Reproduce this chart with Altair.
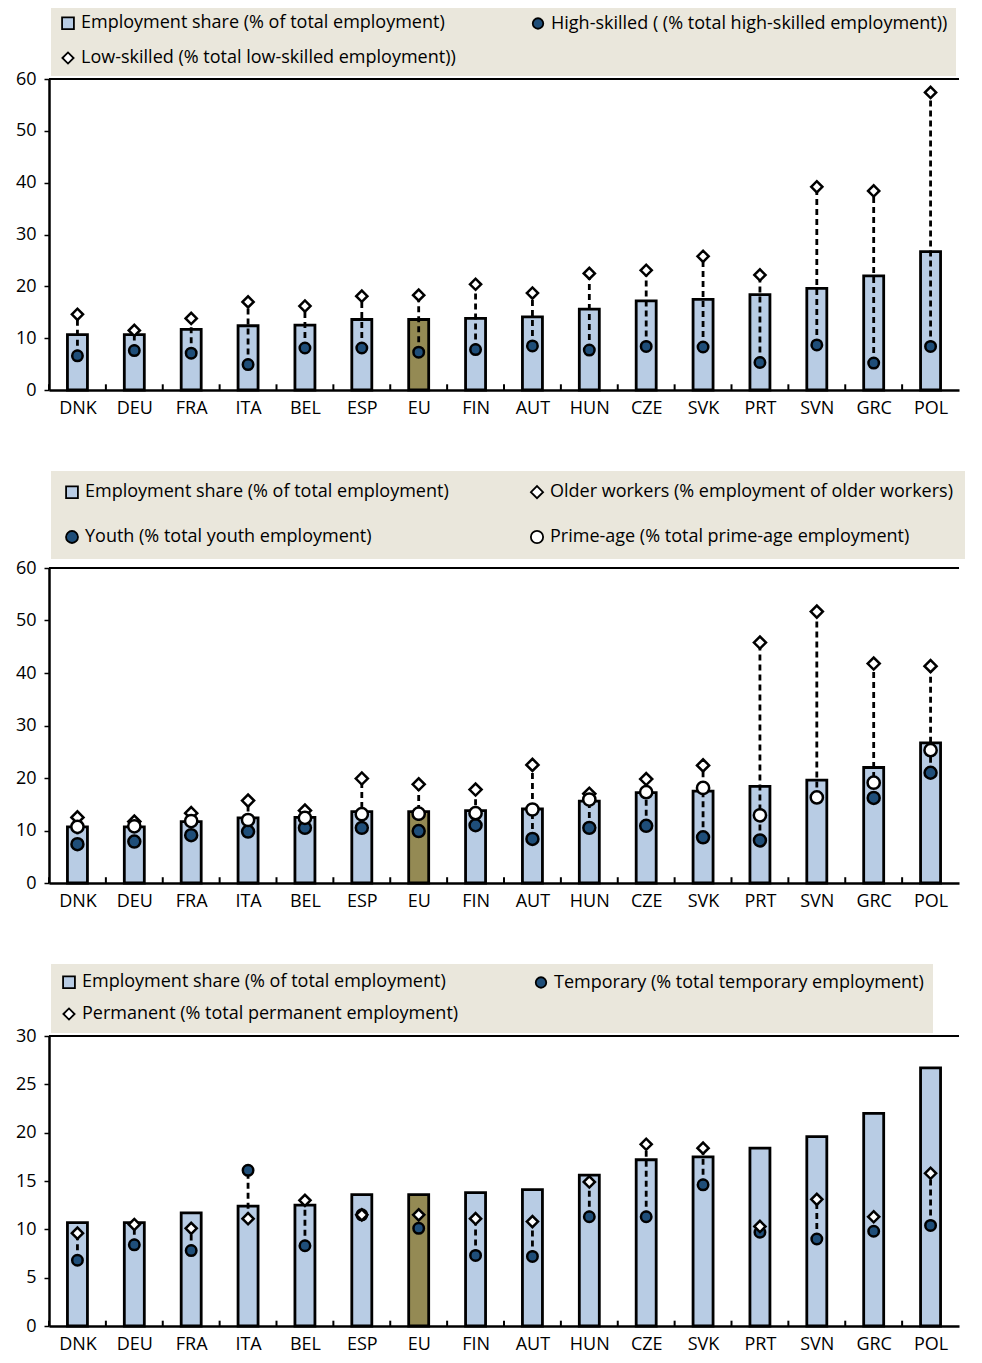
import altair as alt
import pandas as pd

FONT = "Open Sans"

countries = ["DNK", "DEU", "FRA", "ITA", "BEL", "ESP", "EU", "FIN", "AUT",
             "HUN", "CZE", "SVK", "PRT", "SVN", "GRC", "POL"]
emp_share = [10.7, 10.7, 11.7, 12.4, 12.5, 13.6, 13.6, 13.8, 14.1,
             15.6, 17.2, 17.5, 18.4, 19.6, 22.0, 26.7]

# Panel 1: skills
high_skilled = [6.6, 7.6, 7.1, 4.9, 8.1, 8.1, 7.3, 7.8, 8.5, 7.7, 8.4, 8.3, 5.3, 8.7, 5.2, 8.4]
low_skilled = [14.6, 11.5, 13.8, 17.0, 16.2, 18.1, 18.3, 20.4, 18.7, 22.5, 23.1, 25.8, 22.2, 39.2, 38.4, 57.4]

# Panel 2: age
older = [12.5, 11.7, 13.3, 15.7, 13.8, 19.9, 18.8, 17.8, 22.5, 17.0, 19.8, 22.4, 45.8, 51.7, 41.8, 41.3]
youth = [7.4, 7.9, 9.1, 9.8, 10.5, 10.5, 9.9, 11.0, 8.4, 10.5, 10.9, 8.7, 8.1, None, 16.2, 21.0]
prime = [10.7, 10.8, 11.8, 12.0, 12.4, 13.1, 13.2, 13.3, 14.0, 15.9, 17.3, 18.1, 12.9, 16.3, 19.1, 25.3]

# Panel 3: contract type
temporary = [6.8, 8.4, 7.8, 16.1, 8.3, 11.5, 10.1, 7.3, 7.2, 11.3, 11.3, 14.6, 9.7, 9.0, 9.8, 10.4]
permanent = [9.6, 10.5, 10.1, 11.1, 13.0, 11.5, 11.5, 11.1, 10.8, 14.9, 18.8, 18.4, 10.3, 13.1, 11.3, 15.8]

ES = "Employment share (% of total employment)"
HS = "High-skilled ( (% total high-skilled employment))"
LS = "Low-skilled (% total low-skilled employment))"
OW = "Older workers (% employment of older workers)"
YO = "Youth (% total youth employment)"
PA = "Prime-age (% total prime-age employment)"
TE = "Temporary (% total temporary employment)"
PE = "Permanent (% total permanent employment)"

BAR_FILL = "#B8CCE4"
EU_FILL = "#948A54"
DOT_FILL = "#1F4E79"
LEGEND_BG = "#EAE7DC"
LFS = 18


def panel(domain, shapes, fills, sizes, series, ymax, ystep, height,
          colpad, rowpad, pad, offset, tick_len):
    rows = []
    for name, vals in series:
        for c, v in zip(countries, vals):
            if v is not None:
                rows.append({"country": c, "series": name, "value": v})
    pts = pd.DataFrame(rows)
    bars = pd.DataFrame({"country": countries, "value": emp_share})

    xenc = alt.X("country:N", sort=countries, title=None,
                 scale=alt.Scale(paddingInner=0, paddingOuter=0),
                 axis=alt.Axis(labelFontSize=18, labelColor="black", labelFont=FONT,
                               labelPadding=9, labelAngle=0, domainColor="black",
                               domainWidth=2.5, ticks=False, grid=True,
                               gridColor="white", gridWidth=2, tickBand="extent"))
    yscale = alt.Scale(domain=[0, ymax], nice=False)
    yaxis = alt.Axis(values=list(range(0, ymax + 1, ystep)), labelFontSize=18,
                     labelColor="black", labelFont=FONT, tickColor="black",
                     tickSize=5, tickWidth=1.5, domainColor="black", domainWidth=2.5,
                     grid=True, gridColor="white", gridWidth=2, labelPadding=8)

    box_h = 2 * pad + 2 * LFS + rowpad
    legend = alt.Legend(title=None, orient="none", legendX=2, legendY=-(box_h + offset),
                        columns=2, columnPadding=colpad,
                        rowPadding=rowpad, padding=pad, fillColor=LEGEND_BG,
                        labelFontSize=LFS, labelColor="black", labelFont=FONT,
                        labelLimit=800, symbolStrokeColor="black",
                        symbolStrokeWidth=1.8, symbolOffset=0, labelOffset=4)

    bar_layer = alt.Chart(bars).mark_bar(size=20, stroke="black", strokeWidth=2.8).encode(
        x=xenc,
        y=alt.Y("value:Q", scale=yscale, axis=yaxis, title=None),
        fill=alt.condition(alt.datum.country == "EU", alt.value(EU_FILL), alt.value(BAR_FILL)),
    )

    rule_layer = alt.Chart(pts).transform_aggregate(
        lo="min(value)", hi="max(value)", groupby=["country"]
    ).mark_rule(strokeDash=[6, 4], strokeWidth=2.8, color="black").encode(
        x=alt.X("country:N", sort=countries),
        y=alt.Y("lo:Q", scale=yscale),
        y2="hi:Q",
    )

    point_layer = alt.Chart(pts).mark_point(filled=True, strokeWidth=2.5,
                                            opacity=1, fillOpacity=1).encode(
        x=alt.X("country:N", sort=countries),
        y=alt.Y("value:Q", scale=yscale),
        shape=alt.Shape("series:N", scale=alt.Scale(domain=domain, range=shapes), legend=legend),
        fill=alt.Fill("series:N", scale=alt.Scale(domain=domain, range=fills), legend=legend),
        stroke=alt.Stroke("series:N", scale=alt.Scale(domain=domain, range=["black"] * len(domain)),
                          legend=legend),
        size=alt.Size("series:N", scale=alt.Scale(domain=domain, range=sizes), legend=legend),
    )

    tick_layer = alt.Chart(pd.DataFrame({"country": countries})).mark_rule(
        color="black", strokeWidth=2).encode(
        x=alt.X("country:N", sort=countries, bandPosition=0),
        y=alt.datum(0),
        y2=alt.datum(tick_len),
    )

    top_layer = alt.Chart(pd.DataFrame({"top": [ymax]})).mark_rule(
        color="black", strokeWidth=2).encode(y=alt.Y("top:Q", scale=yscale))

    return alt.layer(bar_layer, rule_layer, point_layer, tick_layer, top_layer).properties(
        width=910, height=height)


# Legend columns are filled top-to-bottom, so each domain lists column 1 first.
p1 = panel(
    [ES, LS, HS],
    ["square", "diamond", "circle"],
    [BAR_FILL, "white", DOT_FILL],
    [140, 110, 150],
    [(HS, high_skilled), (LS, low_skilled)],
    60, 10, 311, 73, 15, 8, 6, 1.1)

p2 = panel(
    [ES, YO, OW, PA],
    ["square", "circle", "diamond", "circle"],
    [BAR_FILL, DOT_FILL, "white", "white"],
    [140, 150, 120, 150],
    [(OW, older), (YO, youth), (PA, prime)],
    60, 10, 315, 78, 25, 12, 12, 1.1)

p3 = panel(
    [ES, PE, TE],
    ["square", "diamond", "circle"],
    [BAR_FILL, "white", DOT_FILL],
    [140, 110, 150],
    [(TE, temporary), (PE, permanent)],
    30, 5, 290, 73, 12, 9, 6, 0.55)

chart = alt.vconcat(p1, p2, p3, spacing=52).resolve_scale(
    x="independent", y="independent", shape="independent", fill="independent",
    stroke="independent", size="independent").resolve_legend(
    shape="independent", fill="independent", stroke="independent", size="independent"
).properties(
    padding={"top": -3, "left": 6, "right": 0, "bottom": 0}
).configure_view(fill="#F0FFFF", stroke=None).configure(font=FONT)

chart.save("out.html", embed_options={"renderer": "svg", "actions": False})
